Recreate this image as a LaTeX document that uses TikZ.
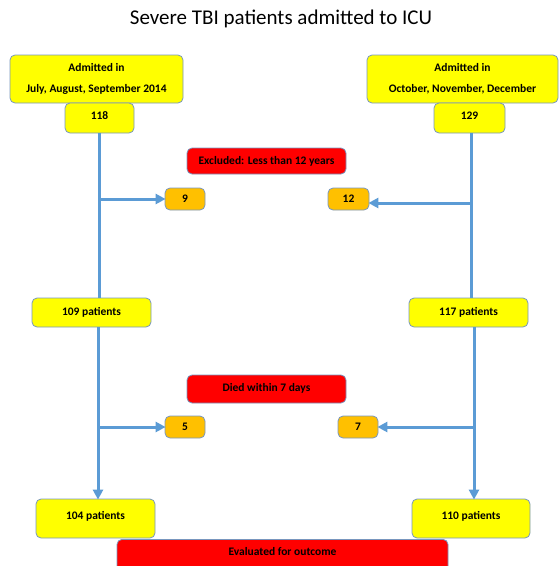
\documentclass[tikz,border=0pt]{standalone}
\usepackage{fontspec}
\setmainfont{Carlito}
\usetikzlibrary{arrows.meta}
\definecolor{bx}{HTML}{7896BE}
\definecolor{ln}{HTML}{5B9BD5}
\definecolor{yel}{HTML}{FFFF00}
\definecolor{org}{HTML}{FFC000}
\definecolor{rd}{HTML}{FF0000}
\tikzset{
  box/.style={draw=bx, line width=0.8pt, rounded corners=5pt, inner sep=0pt,
    font=\bfseries\fontsize{11.5}{13}\selectfont, align=center},
  ybox/.style={box, fill=yel},
  obox/.style={box, fill=org},
  rbox/.style={box, fill=rd},
  flow/.style={draw=ln, line width=3pt},
  arr/.style={flow, -{Triangle[length=10pt,width=10pt]}, shorten >=-1pt}
}
\begin{document}
\begin{tikzpicture}[x=1pt,y=-1pt]
\useasboundingbox (0,0) rectangle (560,566);
\node[font=\fontsize{21}{24}\selectfont] (title) at (281,19) {Severe TBI patients admitted to ICU};
% top boxes
\node[ybox, minimum width=173pt, minimum height=48pt] (adl) at (96.5,79) {Admitted in\\[8pt]July, August, September 2014};
\node[ybox, minimum width=69pt, minimum height=30pt] (n118) at (99.5,118) {\raisebox{4pt}{118}};
\node[ybox, minimum width=191pt, minimum height=48pt] (adr) at (462.5,79) {Admitted in\\[8pt]October, November, December};
\node[ybox, minimum width=71pt, minimum height=30pt] (n129) at (469.5,118) {\raisebox{4pt}{129}};
% exclusion
\node[rbox, minimum width=159pt, minimum height=26pt] (exc) at (266.5,161) {\raisebox{2pt}{Excluded: Less than 12 years}};
\node[obox, minimum width=40pt, minimum height=22pt] (n9) at (185,199) {9};
\node[obox, minimum width=41pt, minimum height=22pt] (n12) at (348.5,199) {12};
% middle boxes
\node[ybox, minimum width=119pt, minimum height=29pt] (p109) at (91.5,312.5) {\raisebox{2pt}{109 patients}};
\node[ybox, minimum width=119pt, minimum height=29pt] (p117) at (468.5,312.5) {\raisebox{2pt}{117 patients}};
% died
\node[rbox, minimum width=159pt, minimum height=28pt] (died) at (266.5,389) {\raisebox{4pt}{Died within 7 days}};
\node[obox, minimum width=40pt, minimum height=22pt] (n5) at (185,427) {5};
\node[obox, minimum width=40pt, minimum height=22pt] (n7) at (358,427) {7};
% bottom
\node[ybox, minimum width=119pt, minimum height=39pt] (p104) at (95.5,518.5) {\raisebox{6pt}{104 patients}};
\node[ybox, minimum width=118pt, minimum height=39pt] (p110) at (471,518.5) {\raisebox{6pt}{110 patients}};
\node[rbox, minimum width=331pt, minimum height=32pt, anchor=north] (eval) at (282.5,539) {\raisebox{7pt}{Evaluated for outcome}};
% connectors
\coordinate (la) at (99,133);
\draw[flow] (la) -- (la |- p109.north);
\draw[arr] (n9.west -| la) -- (n9.west);
\coordinate (ra) at (471,133);
\draw[flow] (ra) -- (ra |- p117.north);
\draw[arr] (471,203) -- (n12.east |- 0,203);
\coordinate (lb) at (98,327);
\draw[arr] (lb) -- (lb |- p104.north);
\draw[arr] (lb |- n5.west) -- (n5.west);
\coordinate (rb) at (474,327);
\draw[arr] (rb) -- (rb |- p110.north);
\draw[arr] (rb |- n7.east) -- (n7.east);
\end{tikzpicture}
\end{document}
